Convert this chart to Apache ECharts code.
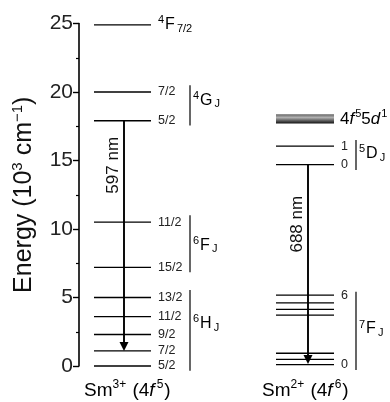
<!DOCTYPE html>
<html>
<head>
<meta charset="utf-8">
<script src="https://cdn.jsdelivr.net/npm/echarts@6/dist/echarts.min.js"></script>
<style>
html, body { margin: 0; padding: 0; background: #fff; }
#chart { width: 390px; height: 402px; }
</style>
</head>
<body>
<div id="chart"></div>
<script>
// energy levels, 10^3 cm^-1
var sm3Levels = [24.9, 20.0, 17.9, 10.5, 7.2, 5.0, 3.6, 2.3, 1.1, 0];
var sm3Labels = ['', '7/2', '5/2', '11/2', '15/2', '13/2', '11/2', '9/2', '7/2', '5/2'];
var sm2Levels = [16.05, 14.7, 5.17, 4.61, 4.13, 3.72, 0.93, 0.49, 0.1];
var sm2Labels = ['1', '0', '6', '', '', '', '', '', '0'];
var sm2Band = [17.7, 18.37];   // 4f5 5d1 band
var transFrom = [17.9, 14.7];
var transTo = [1.1, 0.15];
var transLabels = ['597 nm', '688 nm'];
var transLabelAt = [14.65, 10.35];
// term brackets: [low, high, label position]
var terms3 = [[17.55, 20.5, 19.4], [6.85, 11.0, 8.8], [-0.35, 5.55, 3.1]];
var terms3Names = ['{s|4}{t|G}{b|J}', '{s|6}{t|F}{b|J}', '{s|6}{t|H}{b|J}'];
var terms2 = [[14.3, 16.5, 15.5], [-0.3, 5.42, 2.7]];
var terms2Names = ['{s|5}{t|D}{b|J}', '{s|7}{t|F}{b|J}'];
var yTicks = { min: 0, max: 25, interval: 5 };

var FONT = 'Liberation Sans, Arial, sans-serif';
var COL3 = [94, 151], COL2 = [276, 334];
var ARROW_X = [124, 308];
var BR3 = 190, BR2 = 356;

var termRich = {
	s: { fontSize: 11, fontFamily: FONT, color: '#111', padding: [0, 1, 9, 0] },
	t: { fontSize: 16, fontFamily: FONT, color: '#111' },
	b: { fontSize: 11, fontFamily: FONT, color: '#111', padding: [8, 0, 0, 2] }
};

var captionRich = {
	a: { fontSize: 19, fontFamily: FONT, color: '#111' },
	i: { fontSize: 19, fontFamily: FONT, color: '#111', fontStyle: 'italic', padding: [0, 2, 0, 0] },
	s: { fontSize: 12, fontFamily: FONT, color: '#111', padding: [0, 1, 11, 0] }
};

function levelItem(xs, labels) {
	return function (params, api) {
		var y = api.value(0);
		var p1 = api.coord([xs[0], y]);
		var p2 = api.coord([xs[1], y]);
		return {
			type: 'group',
			children: [
				{ type: 'line', shape: { x1: p1[0], y1: p1[1], x2: p2[0], y2: p2[1] }, style: { stroke: '#000', lineWidth: 1.3 } },
				{ type: 'text', style: { text: labels[params.dataIndex], x: p2[0] + 7, y: p1[1], verticalAlign: 'middle', font: '12.5px ' + FONT, fill: '#222' } }
			]
		};
	};
}

function termItem(x, names) {
	return function (params, api) {
		var a = api.coord([x, api.value(0)]);
		var b = api.coord([x, api.value(1)]);
		var c = api.coord([x, api.value(2)]);
		return {
			type: 'group',
			children: [
				{ type: 'line', shape: { x1: a[0], y1: a[1], x2: b[0], y2: b[1] }, style: { stroke: '#000', lineWidth: 1.2 } },
				{ type: 'text', style: { text: names[params.dataIndex], rich: termRich, x: a[0] + 3, y: c[1], verticalAlign: 'middle', align: 'left' } }
			]
		};
	};
}

var chart = echarts.init(document.getElementById('chart'));
chart.setOption({
	animation: false,
	grid: { left: 79, right: 0, top: 23.5, bottom: 36 },
	xAxis: { type: 'value', min: 79, max: 390, show: false },
	yAxis: {
		type: 'value',
		min: yTicks.min,
		max: yTicks.max,
		interval: yTicks.interval,
		name: '{a|Energy (10}{s|3}{a| cm}{s|−1}{a|)}',
		nameLocation: 'middle',
		nameGap: 41,
		nameTextStyle: {
			rich: {
				a: { fontSize: 25, fontFamily: FONT, color: '#111' },
				s: { fontSize: 15, fontFamily: FONT, color: '#111', padding: [0, 0, 13, 0] }
			}
		},
		axisLine: { show: true, lineStyle: { color: '#000', width: 1.6 } },
		axisTick: { show: true, length: 6, lineStyle: { color: '#000', width: 1.4 } },
		minorTick: { show: true, splitNumber: 2, length: 3, lineStyle: { color: '#000', width: 1.2 } },
		splitLine: { show: false },
		axisLabel: { fontSize: 21, fontFamily: FONT, color: '#222', margin: 6 }
	},
	series: [
		{
			type: 'custom',
			renderItem: levelItem(COL3, sm3Labels),
			data: sm3Levels.map(function (v) { return [v]; }),
			encode: { y: 0 }
		},
		{
			type: 'custom',
			renderItem: levelItem(COL2, sm2Labels),
			data: sm2Levels.map(function (v) { return [v]; }),
			encode: { y: 0 }
		},
		{
			// 4f5 5d1 band
			type: 'custom',
			renderItem: function (params, api) {
				var p1 = api.coord([COL2[0], api.value(1)]);
				var p2 = api.coord([COL2[1], api.value(0)]);
				return {
					type: 'group',
					children: [
						{
							type: 'rect',
							shape: { x: p1[0], y: p1[1], width: p2[0] - p1[0], height: p2[1] - p1[1] },
							style: {
								fill: new echarts.graphic.LinearGradient(0, 0, 0, 1, [
									{ offset: 0, color: '#666' },
									{ offset: 0.35, color: '#b0b0b0' },
									{ offset: 1, color: '#111' }
								])
							}
						},
						{
							type: 'text',
							style: {
								text: '{t|4}{i|f}{s|5}{t|5}{i|d}{s|1}',
								rich: {
									t: { fontSize: 17, fontFamily: FONT, color: '#111' },
									i: { fontSize: 17, fontFamily: FONT, color: '#111', fontStyle: 'italic', padding: [0, 1, 0, 0] },
									s: { fontSize: 11, fontFamily: FONT, color: '#111', padding: [0, 0, 10, 0] }
								},
								x: p2[0] + 6, y: (p1[1] + p2[1]) / 2, verticalAlign: 'middle'
							}
						}
					]
				};
			},
			data: [sm2Band],
			encode: { y: [0, 1] }
		},
		{
			// 4F7/2 label
			type: 'custom',
			renderItem: function (params, api) {
				var p = api.coord([COL3[1], api.value(0)]);
				return {
					type: 'text',
					style: {
						text: '{s|4}{t|F}{b|7/2}',
						rich: termRich,
						x: p[0] + 7, y: p[1], verticalAlign: 'middle'
					}
				};
			},
			data: [[sm3Levels[0]]],
			encode: { y: 0 }
		},
		{
			type: 'custom',
			renderItem: termItem(BR3, terms3Names),
			data: terms3,
			encode: { y: [0, 1] }
		},
		{
			type: 'custom',
			renderItem: termItem(BR2, terms2Names),
			data: terms2,
			encode: { y: [0, 1] }
		},
		{
			// emission arrows
			type: 'custom',
			renderItem: function (params, api) {
				var x = ARROW_X[params.dataIndex];
				var a = api.coord([x, api.value(0)]);
				var b = api.coord([x, api.value(1)]);
				var c = api.coord([x, transLabelAt[params.dataIndex]]);
				var head = 9;
				return {
					type: 'group',
					children: [
						{ type: 'line', shape: { x1: a[0], y1: a[1], x2: b[0], y2: b[1] - head + 1 }, style: { stroke: '#000', lineWidth: 1.9 } },
						{ type: 'polygon', shape: { points: [[b[0] - 4.5, b[1] - head], [b[0] + 4.5, b[1] - head], [b[0], b[1]]] }, style: { fill: '#000' } },
						{
							type: 'text',
							x: a[0] - 11, y: c[1],
							rotation: Math.PI / 2,
							style: { text: transLabels[params.dataIndex], font: '17px ' + FONT, fill: '#111', align: 'center', verticalAlign: 'middle' }
						}
					]
				};
			},
			data: transFrom.map(function (v, i) { return [v, transTo[i]]; }),
			encode: { y: [0, 1] }
		}
	],
	graphic: [
		{
			type: 'text', left: 84, top: 379,
			style: { text: '{a|Sm}{s|3+}{a| (4}{i|f}{s|5}{a|)}', rich: captionRich }
		},
		{
			type: 'text', left: 262, top: 379,
			style: { text: '{a|Sm}{s|2+}{a| (4}{i|f}{s|6}{a|)}', rich: captionRich }
		}
	]
});
</script>
</body>
</html>
